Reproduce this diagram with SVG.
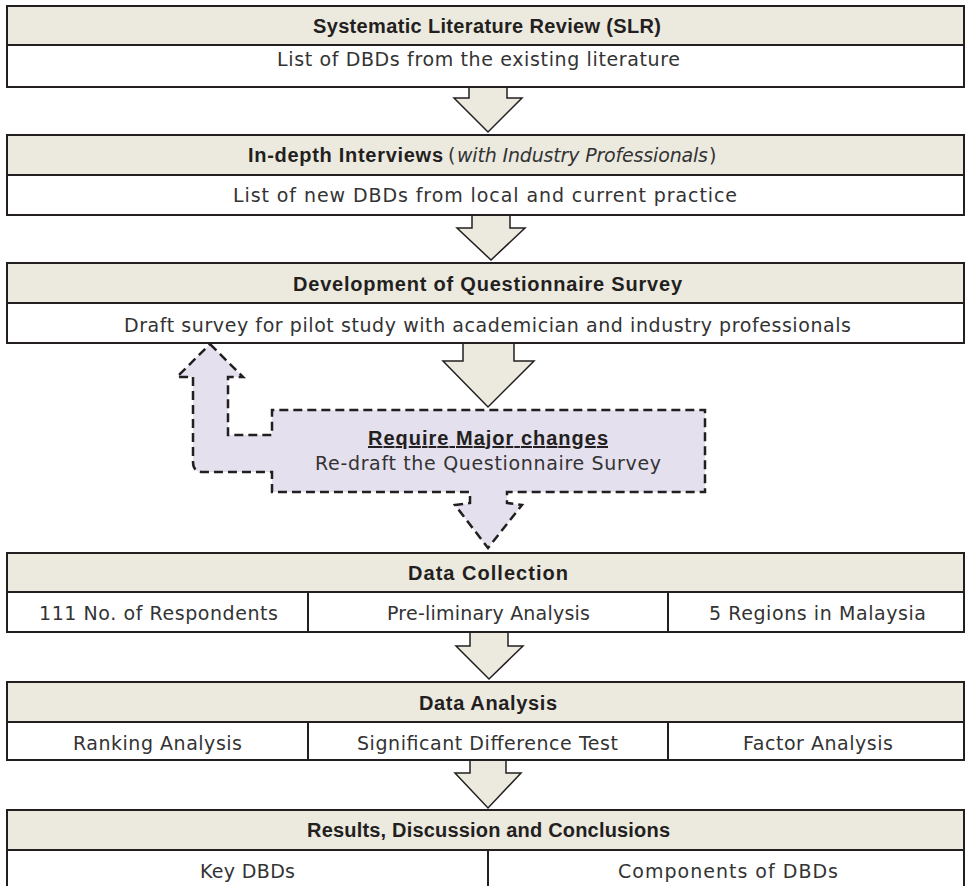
<svg xmlns="http://www.w3.org/2000/svg" width="966" height="886" viewBox="0 0 966 886">
<style>
.hdr{fill:#ECE9DF;stroke:#231F20;stroke-width:2}
.row{fill:#FFFFFF;stroke:#231F20;stroke-width:2}
.div{stroke:#231F20;stroke-width:2}
.arr{fill:#ECE9DF;stroke:#231F20;stroke-width:1.5;stroke-linejoin:miter}
.dash{fill:#E4E0EE;stroke:#231F20;stroke-width:2.5;stroke-dasharray:9 5}
.b{font-family:"Liberation Sans",Arial,sans-serif;font-weight:bold;font-size:20px;fill:#231F20}
.t{font-family:"DejaVu Sans","Liberation Sans",sans-serif;font-size:19px;fill:#333333}
.i{font-family:"DejaVu Sans","Liberation Sans",sans-serif;font-style:italic;font-size:19px;fill:#333333}
</style>
<rect width="966" height="886" fill="#FFFFFF"/>
<g id="connectors">
<path class="arr" d="M469,87 L469,98 L454,98 L488,132 L522,98 L507,98 L507,87"/>
<path class="arr" d="M472,215 L472,228 L457,228 L491,260 L525,228 L510,228 L510,215"/>
<path class="arr" d="M463,343 L463,361 L443,361 L488,407 L534,361 L514,361 L514,343"/>
<path class="arr" d="M470,632 L470,646 L456,646 L489,679 L523,646 L508,646 L508,632"/>
<path class="arr" d="M470,760 L470,773 L455,773 L488,808 L521,773 L506,773 L506,760"/>
</g>
<g id="slr">
<rect class="hdr" x="7" y="6" width="957" height="39"/>
<rect class="row" x="7" y="45" width="957" height="42"/>
<text class="b" x="313" y="33" textLength="348">Systematic Literature Review (SLR)</text>
<text class="t" x="277" y="66" textLength="403">List of DBDs from the existing literature</text>
</g>
<g id="interviews">
<rect class="hdr" x="7" y="135" width="957" height="40"/>
<rect class="row" x="7" y="175" width="957" height="40"/>
<text class="b" x="248" y="162" textLength="195">In-depth Interviews</text>
<text class="t" x="448" y="162">(</text>
<text class="i" x="457" y="162" textLength="251">with Industry Professionals</text>
<text class="t" x="709" y="162">)</text>
<text class="t" x="233" y="202" textLength="504">List of new DBDs from local and current practice</text>
</g>
<g id="questionnaire">
<rect class="hdr" x="7" y="263" width="957" height="40"/>
<rect class="row" x="7" y="303" width="957" height="40"/>
<text class="b" x="293" y="291" textLength="389">Development of Questionnaire Survey</text>
<text class="t" x="124" y="332" textLength="727">Draft survey for pilot study with academician and industry professionals</text>
</g>
<g id="redraft">
<path class="dash" d="M210,344 L243,377 L228,377 L228,435 L272,435 L272,410 L705,410 L705,492 L507,492 L507,503 L522,505 L488,548 L455,505 L470,503 L470,492 L272,492 L272,472 L203,472 Q193,472 193,462 L193,377 L177,377 Z"/>
<text class="b" x="368" y="445" textLength="240" text-decoration="underline">Require Major changes</text>
<text class="t" x="315" y="470" textLength="346">Re-draft the Questionnaire Survey</text>
</g>
<g id="data-collection">
<rect class="hdr" x="7" y="553" width="957" height="39"/>
<rect class="row" x="7" y="592" width="957" height="40"/>
<line class="div" x1="308" y1="592" x2="308" y2="632"/>
<line class="div" x1="668" y1="592" x2="668" y2="632"/>
<text class="b" x="408" y="580" textLength="160">Data Collection</text>
<text class="t" x="39" y="620" textLength="239">111 No. of Respondents</text>
<text class="t" x="387" y="620" textLength="203">Pre-liminary Analysis</text>
<text class="t" x="709" y="620" textLength="217">5 Regions in Malaysia</text>
</g>
<g id="data-analysis">
<rect class="hdr" x="7" y="682" width="957" height="40"/>
<rect class="row" x="7" y="722" width="957" height="38"/>
<line class="div" x1="308" y1="722" x2="308" y2="760"/>
<line class="div" x1="668" y1="722" x2="668" y2="760"/>
<text class="b" x="419" y="710" textLength="138">Data Analysis</text>
<text class="t" x="73" y="750" textLength="169">Ranking Analysis</text>
<text class="t" x="357" y="750" textLength="261">Significant Difference Test</text>
<text class="t" x="743" y="750" textLength="150">Factor Analysis</text>
</g>
<g id="results">
<rect class="hdr" x="7" y="810" width="957" height="40"/>
<rect class="row" x="7" y="850" width="957" height="45"/>
<line class="div" x1="488" y1="850" x2="488" y2="895"/>
<text class="b" x="307" y="837" textLength="363">Results, Discussion and Conclusions</text>
<text class="t" x="200" y="878" textLength="95">Key DBDs</text>
<text class="t" x="618" y="878" textLength="220">Components of DBDs</text>
</g>
</svg>
